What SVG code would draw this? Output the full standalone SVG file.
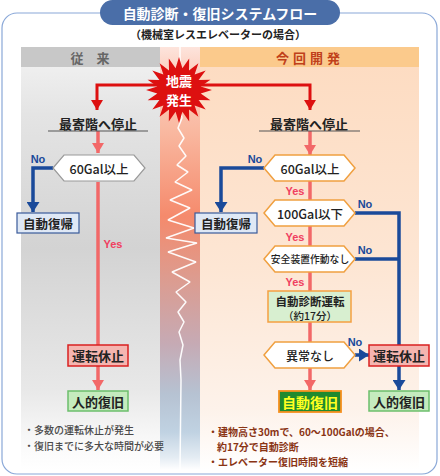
<svg xmlns="http://www.w3.org/2000/svg" width="440" height="476" viewBox="0 0 440 476">
<defs>
<linearGradient id="gLeft" gradientUnits="userSpaceOnUse" x1="0" y1="66" x2="0" y2="470">
<stop offset="0" stop-color="#efefef"/><stop offset="0.12" stop-color="#e4e4e4"/><stop offset="0.45" stop-color="#d3d3d3"/><stop offset="0.8" stop-color="#e8e8e8"/><stop offset="0.94" stop-color="#fafafa"/><stop offset="1" stop-color="#ffffff"/>
</linearGradient>
<linearGradient id="gRight" gradientUnits="userSpaceOnUse" x1="0" y1="66" x2="0" y2="470">
<stop offset="0" stop-color="#fddcc2"/><stop offset="0.5" stop-color="#fde6d4"/><stop offset="0.85" stop-color="#fdf2ea"/><stop offset="1" stop-color="#ffffff"/>
</linearGradient>
<linearGradient id="gMid" gradientUnits="userSpaceOnUse" x1="0" y1="47" x2="0" y2="470">
<stop offset="0" stop-color="#fde4dc"/><stop offset="0.045" stop-color="#fcd4c6"/><stop offset="0.2" stop-color="#f9b8a0"/><stop offset="0.4" stop-color="#f58a6c"/><stop offset="0.55" stop-color="#dc9c90"/><stop offset="0.7" stop-color="#c6aab4"/><stop offset="0.82" stop-color="#b6c2d2"/><stop offset="0.91" stop-color="#c0d2e2"/><stop offset="0.97" stop-color="#e4ecf3"/><stop offset="1" stop-color="#ffffff"/>
</linearGradient>
<marker id="mPink" markerUnits="userSpaceOnUse" markerWidth="10" markerHeight="12" viewBox="0 0 10 12" refX="10" refY="6" orient="auto"><path d="M0,0 L10,6 L0,12 z" fill="#f26868"/></marker>
<marker id="mBlue" markerUnits="userSpaceOnUse" markerWidth="10" markerHeight="13" viewBox="0 0 10 13" refX="10" refY="6.5" orient="auto"><path d="M0,0 L10,6.5 L0,13 z" fill="#1a4a9a"/></marker>
<marker id="mRed" markerUnits="userSpaceOnUse" markerWidth="10" markerHeight="12" viewBox="0 0 10 12" refX="10" refY="6" orient="auto"><path d="M0,0 L10,6 L0,12 z" fill="#dd1010"/></marker>
</defs>
<style>
text{font-family:"Noto Sans CJK JP","Noto Sans",sans-serif;}
.b{font-weight:bold;}
.m{font-weight:500;}
.c{text-anchor:middle;dominant-baseline:central;}
.pink{fill:none;stroke:#f26868;stroke-width:3.5;}
.blue{fill:none;stroke:#1a4a9a;stroke-width:3.5;}
.red{fill:none;stroke:#dd1010;stroke-width:3;}
.hexL{fill:#fff;stroke:#999;stroke-width:1.2;}
.hexR{fill:#fff;stroke:#f0a040;stroke-width:1.5;}
.boxBlue{fill:#dfe8f5;stroke:#3a5a9a;stroke-width:1.2;}
.boxRed{fill:#f5b5b0;stroke:#d92020;stroke-width:1.5;}
.boxGreen{fill:#c5ebbe;stroke:#6cbf6c;stroke-width:1.5;}
.yes{fill:#f04060;font-size:11px;font-weight:bold;font-family:"Liberation Sans",Arial,sans-serif;}
.no{fill:#1a4a9a;font-size:11px;font-weight:bold;font-family:"Liberation Sans",Arial,sans-serif;}
.lbl{fill:#222;}
.noteL{font-size:10px;fill:#4a4a4a;font-weight:500;}
.noteR{font-size:10px;fill:#8a3414;font-weight:bold;}
</style>

<!-- frame and title -->
<rect x="2" y="13" width="435" height="461" rx="15" fill="#fff" stroke="#8aa8d8" stroke-width="1.2"/>
<rect x="100" y="0" width="240" height="25" rx="12.5" fill="#4a6ea8"/>
<text x="220" y="13" class="c b" font-size="14" fill="#fff">自動診断・復旧システムフロー</text>
<text x="218" y="34" class="c b" font-size="11" fill="#222">（機械室レスエレベーターの場合）</text>

<!-- panels -->
<rect x="21" y="66" width="139" height="404" fill="url(#gLeft)"/>
<rect x="200" y="66" width="219" height="404" fill="url(#gRight)"/>
<rect x="160" y="47" width="40" height="423" fill="url(#gMid)"/>
<rect x="21" y="47" width="139" height="20" fill="#c8c8c8"/>
<rect x="200" y="47" width="219" height="20" fill="#fbca8c"/>
<text x="90" y="57" class="c b" font-size="13" fill="#666">従　来</text>
<text x="310" y="57" class="c b" font-size="13" fill="#c0401a" letter-spacing="4">今回開発</text>

<!-- seismic line -->
<path d="M180,47 V105 L182,118 L178,128 L184,138 L179,146 L186,156 L177,165 L188,172 L175,182 L192,190 L170,200 L190,208 L168,220 L194,228 L166,238 L197,243 L168,252 L196,262 L172,272 L190,282 L176,292 L186,302 L178,312 L184,322 L179,332 L183,345 L180,360 L181,380 L180,470" fill="none" stroke="#fff" stroke-width="1.5" stroke-linejoin="bevel" opacity="0.95"/>

<g id="connectors">
<path class="red" d="M179,85 H97 V110" marker-end="url(#mRed)"/>
<path class="red" d="M179,85 H310 V110" marker-end="url(#mRed)"/>
<path class="pink" d="M98,131 V153" marker-end="url(#mPink)"/>
<path class="pink" d="M98,182 V345"/>
<path class="pink" d="M98,366 V390" marker-end="url(#mPink)"/>
<path class="pink" d="M310,131 V155" marker-end="url(#mPink)"/>
<path class="pink" d="M310,181 V200"/>
<path class="pink" d="M310,226 V246"/>
<path class="pink" d="M310,272 V291"/>
<path class="pink" d="M310,322 V342"/>
<path class="pink" d="M310,368 V390" marker-end="url(#mPink)"/>
<path class="blue" d="M53,168 H33 V212" marker-end="url(#mBlue)"/>
<path class="blue" d="M264,168 H221 V212" marker-end="url(#mBlue)"/>
<path class="blue" d="M355,213 H399 V390" marker-end="url(#mBlue)"/>
<path class="blue" d="M355,259 H399"/>
<path class="blue" d="M355,355 H369" marker-end="url(#mBlue)"/>
<text x="38" y="159" class="c no">No</text>
<text x="255" y="159" class="c no">No</text>
<text x="365" y="204" class="c no">No</text>
<text x="365" y="250" class="c no">No</text>
<text x="355" y="342" class="c no">No</text>
<text x="113" y="244" class="c yes">Yes</text>
<text x="295" y="191" class="c yes">Yes</text>
<text x="295" y="237" class="c yes">Yes</text>
<text x="295" y="282" class="c yes">Yes</text>
</g>

<g id="quake">
<polygon fill="#dd1010" points="179,57 182.4,68.3 189.2,58.6 189,70.4 198.4,63.3 194.6,74.4 205.7,70.6 198.6,80 210.4,79.8 200.7,86.6 212,90 200.7,93.4 210.4,100.2 198.6,100 205.7,109.4 194.6,105.6 198.4,116.7 189,109.6 189.2,121.4 182.4,111.7 179,123 175.6,111.7 168.8,121.4 169,109.6 159.6,116.7 163.4,105.6 152.3,109.4 159.4,100 147.6,100.2 157.3,93.4 146,90 157.3,86.6 147.6,79.8 159.4,80 152.3,70.6 163.4,74.4 159.6,63.3 169,70.4 168.8,58.6 175.6,68.3"/>
<text x="179" y="80.5" class="c b" font-size="13" fill="#fff">地震</text>
<text x="179" y="99.5" class="c b" font-size="13" fill="#fff">発生</text>
</g>

<g id="stopL">
<text x="98" y="123" class="c b" font-size="13" fill="#222">最寄階へ停止</text>
<line x1="48" y1="131" x2="148" y2="131" stroke="#555" stroke-width="1.2"/>
</g>
<g id="stopR">
<text x="309" y="123" class="c b" font-size="13" fill="#222">最寄階へ停止</text>
<line x1="259" y1="131" x2="360" y2="131" stroke="#555" stroke-width="1.2"/>
</g>

<g id="hexL60">
<polygon class="hexL" points="53,168 64,155 134,155 145,168 134,181 64,181"/>
<text x="99" y="168" class="c m lbl" font-size="12.5">60Gal以上</text>
</g>
<g id="recoverL">
<rect class="boxBlue" x="17" y="213" width="62" height="20"/>
<text x="48" y="223" class="c b lbl" font-size="12.5">自動復帰</text>
</g>
<g id="stopOpL">
<rect class="boxRed" x="68" y="345" width="60" height="21"/>
<text x="98" y="355.5" class="c b lbl" font-size="13">運転休止</text>
</g>
<g id="manualL">
<rect class="boxGreen" x="68" y="391" width="60" height="20"/>
<text x="98" y="401" class="c b lbl" font-size="13">人的復旧</text>
</g>

<g id="hexR60">
<polygon class="hexR" points="264,168 275,155 344,155 355,168 344,181 275,181"/>
<text x="310" y="168" class="c m lbl" font-size="12.5">60Gal以上</text>
</g>
<g id="recoverR">
<rect class="boxBlue" x="195" y="213" width="62" height="20"/>
<text x="226" y="223" class="c b lbl" font-size="12.5">自動復帰</text>
</g>
<g id="hexR100">
<polygon class="hexR" points="264,213 275,200 344,200 355,213 344,226 275,226"/>
<text x="310" y="213" class="c m lbl" font-size="12.5">100Gal以下</text>
</g>
<g id="hexSafe">
<polygon class="hexR" points="264,259 275,246 344,246 355,259 344,272 275,272"/>
<text x="310" y="259" class="c m lbl" font-size="9.8">安全装置作動なし</text>
</g>
<g id="diag">
<rect x="268" y="291" width="83" height="31" fill="#d8efd0" stroke="#f5a040" stroke-width="1.5"/>
<text x="310" y="301" class="c b lbl" font-size="11.5">自動診断運転</text>
<text x="310" y="315" class="c m lbl" font-size="10.5">（約17分）</text>
</g>
<g id="hexOK">
<polygon class="hexR" points="264,355 275,342 344,342 355,355 344,368 275,368"/>
<text x="310" y="355" class="c m lbl" font-size="12">異常なし</text>
</g>
<g id="stopOpR">
<rect class="boxRed" x="369" y="345" width="60" height="21"/>
<text x="399" y="355.5" class="c b lbl" font-size="13">運転休止</text>
</g>
<g id="autoRec">
<rect x="279" y="391" width="62" height="21" fill="#1f8a2f" stroke="#f5901f" stroke-width="1.8"/>
<text x="310" y="401.5" class="c b" font-size="14" fill="#ffff20">自動復旧</text>
</g>
<g id="manualR">
<rect class="boxGreen" x="369" y="391" width="60" height="20"/>
<text x="399" y="401" class="c b lbl" font-size="13">人的復旧</text>
</g>

<g id="notes">
<text x="24" y="429" class="noteL" dominant-baseline="central">・多数の運転休止が発生</text>
<text x="24" y="445" class="noteL" dominant-baseline="central">・復旧までに多大な時間が必要</text>
<text x="208" y="431" class="noteR" dominant-baseline="central">・建物高さ30mで、60～100Galの場合、</text>
<text x="217" y="446" class="noteR" dominant-baseline="central">約17分で自動診断</text>
<text x="208" y="461" class="noteR" dominant-baseline="central">・エレベーター復旧時間を短縮</text>
</g>
</svg>
